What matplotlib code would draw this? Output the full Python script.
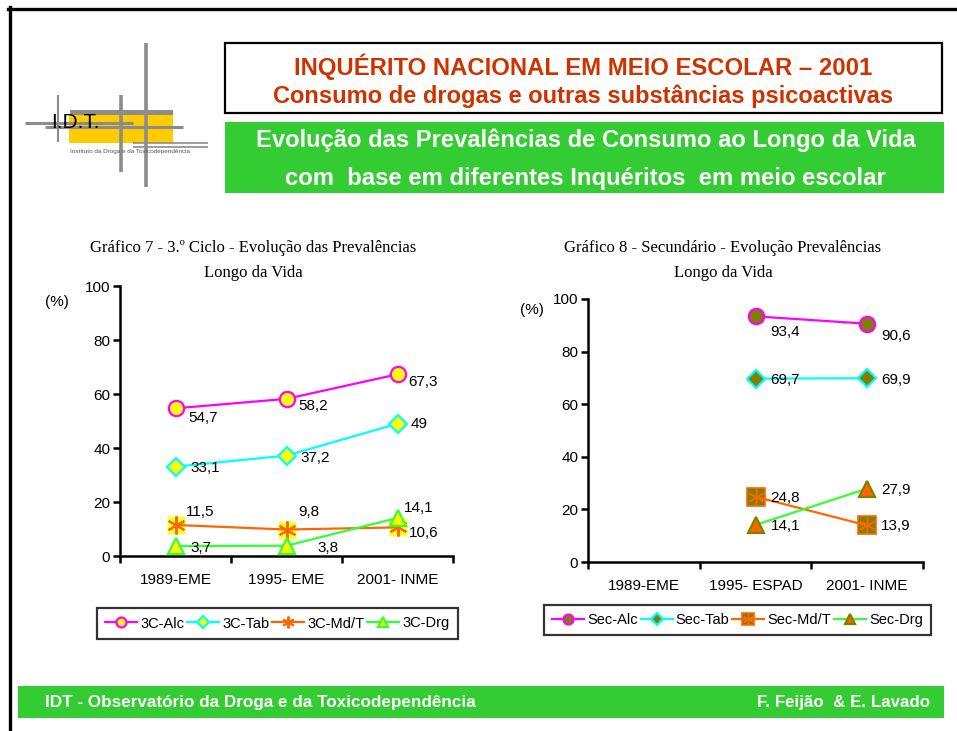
import numpy as np
import matplotlib
matplotlib.use("Agg")
import matplotlib.pyplot as plt
from matplotlib.patches import Rectangle
from matplotlib.lines import Line2D

# ---------------- data ----------------
cats1 = ["1989-EME", "1995- EME", "2001- INME"]
cats2 = ["1989-EME", "1995- ESPAD", "2001- INME"]

c3_alc = [54.7, 58.2, 67.3]
c3_tab = [33.1, 37.2, 49.0]
c3_mdt = [11.5, 9.8, 10.6]
c3_drg = [3.7, 3.8, 14.1]

sec_alc = [np.nan, 93.4, 90.6]
sec_tab = [np.nan, 69.7, 69.9]
sec_mdt = [np.nan, 24.8, 13.9]
sec_drg = [np.nan, 14.1, 27.9]

names1 = ["3C-Alc", "3C-Tab", "3C-Md/T", "3C-Drg"]
names2 = ["Sec-Alc", "Sec-Tab", "Sec-Md/T", "Sec-Drg"]

yticks = [0, 20, 40, 60, 80, 100]

# label offsets in pixels (dx, dy) for each series / point
off1 = [[(13, -10), (12, -7), (11, -8)],
        [(15, -1), (14, -2), (13, 0)],
        [(10, 13), (12, 18), (11, -6)],
        [(15, -2), (31, -2), (6, 10)]]
off2 = [[None, (15, -16), (14, -12)],
        [None, (15, -1), (14, -2)],
        [None, (15, -1), (14, -1)],
        [None, (15, -1), (14, -1)]]

W, H = 957, 731
fig = plt.figure(figsize=(W / 100, H / 100), dpi=100)
fig.patch.set_facecolor("white")

def fx(px):
    return px / W

def fy(py):
    return 1 - py / H

SANS = "Liberation Sans"
SERIF = "Liberation Serif"

MAG = "#FF00FF"
CYA = "#00FFFF"
ORA = "#FF6600"
GRN = "#33FF33"
YEL = "#FFFF00"
OLV = "#808000"
GREENBOX = "#33CC33"
RED = "#CC3300"

# ---------------- frame ----------------
fig.add_artist(Line2D([fx(8), fx(957)], [fy(8.5), fy(8.5)], color="black", lw=2.4,
                      transform=fig.transFigure))
fig.add_artist(Line2D([fx(9.5), fx(9.5)], [fy(7), fy(731)], color="black", lw=2.4,
                      transform=fig.transFigure))

# ---------------- header boxes ----------------
fig.add_artist(Rectangle((fx(225), fy(113)), fx(942) - fx(225), fy(43) - fy(113),
                         transform=fig.transFigure, facecolor="white",
                         edgecolor="black", lw=1.6))
fig.text(fx(583), fy(67), "INQUÉRITO NACIONAL EM MEIO ESCOLAR – 2001", family=SANS,
         weight="bold", color=RED, fontsize=17.2, ha="center", va="center")
fig.text(fx(583), fy(96), "Consumo de drogas e outras substâncias psicoactivas", family=SANS,
         weight="bold", color=RED, fontsize=17, ha="center", va="center")

fig.add_artist(Rectangle((fx(225), fy(193)), fx(944) - fx(225), fy(122) - fy(193),
                         transform=fig.transFigure, facecolor=GREENBOX,
                         edgecolor="none"))
fig.text(fx(586), fy(140), "Evolução das Prevalências de Consumo ao Longo da Vida", family=SANS,
         weight="bold", color="white", fontsize=17.1, ha="center", va="center")
fig.text(fx(585), fy(178), "com  base em diferentes Inquéritos  em meio escolar", family=SANS,
         weight="bold", color="white", fontsize=17.2, ha="center", va="center")

# ---------------- logo ----------------
GR = "#8C8C8C"
fig.add_artist(Rectangle((fx(69), fy(143)), fx(173) - fx(69), fy(115) - fy(143),
                         transform=fig.transFigure, facecolor="#FFCC00", edgecolor="none"))
fig.add_artist(Rectangle((fx(70), fy(115)), fx(173) - fx(70), fy(110) - fy(115),
                         transform=fig.transFigure, facecolor=GR, edgecolor="none"))
for (x0, y0, x1, y1, lw) in [(146, 43, 146, 187, 2.6), (121, 95, 121, 172, 2.6),
                             (58, 95, 58, 142, 1.5), (25, 123, 133, 123, 2.2),
                             (45, 127, 183, 127, 2.2), (133, 143, 208, 143, 1.2),
                             (133, 147, 208, 147, 1.2)]:
    fig.add_artist(Line2D([fx(x0), fx(x1)], [fy(y0), fy(y1)], color=GR, lw=lw,
                          transform=fig.transFigure, solid_capstyle="butt"))
fig.text(fx(51), fy(122), "I.D.T.", family=SANS, fontsize=15, color="black",
         ha="left", va="center", weight="light")
fig.text(fx(70), fy(151), "Instituto da Droga e da Toxicodependência", family=SANS,
         fontsize=4.6, color="#555555", ha="left", va="center")

# ---------------- footer ----------------
fig.add_artist(Rectangle((fx(18), fy(718)), fx(944) - fx(18), fy(686) - fy(718),
                         transform=fig.transFigure, facecolor=GREENBOX, edgecolor="none"))
fig.text(fx(45), fy(702), "IDT - Observatório da Droga e da Toxicodependência", family=SANS,
         weight="bold", color="white", fontsize=12.3, ha="left", va="center")
fig.text(fx(930), fy(702), "F. Feijão  & E. Lavado", family=SANS,
         weight="bold", color="white", fontsize=12.2, ha="right", va="center")


def fmt(v):
    return ("%g" % v).replace(".", ",")


def setup_axes(ax, cats):
    ax.set_xlim(-0.5, 2.5)
    ax.set_ylim(0, 100)
    for s in ["top", "right"]:
        ax.spines[s].set_visible(False)
    for s in ["left", "bottom"]:
        ax.spines[s].set_linewidth(1.8)
    ax.set_yticks(yticks)
    ax.set_yticklabels([str(t) for t in yticks], family=SANS, fontsize=11)
    ax.set_xticks([-0.5, 0.5, 1.5, 2.5])
    ax.set_xticklabels([])
    ax.set_xticks([0, 1, 2], minor=True)
    ax.set_xticklabels(cats, minor=True, family=SANS, fontsize=11)
    ax.tick_params(axis="x", which="minor", length=0, pad=12)
    ax.tick_params(axis="both", which="major", length=5, width=1.8, direction="out")
    ax.tick_params(axis="y", pad=2)
    ax.patch.set_alpha(0)


x = np.arange(3)
LEGKW = dict(loc="center", ncol=4, frameon=True, fancybox=False,
             prop={"family": SANS, "size": 10.5}, handlelength=2.2, handletextpad=0.2,
             columnspacing=0.2, borderpad=0.55, markerscale=0.65, borderaxespad=0)

# ---------------- chart 1 ----------------
ax1 = fig.add_axes([fx(120), fy(556), fx(453) - fx(120), fy(286) - fy(556)])
setup_axes(ax1, cats1)
h1 = []
h1.append(ax1.plot(x, c3_alc, color=MAG, lw=1.6, marker="o", ms=11, mfc=YEL, mec=MAG,
                   mew=1.6, label=names1[0])[0])
h1.append(ax1.plot(x, c3_tab, color=CYA, lw=1.6, marker="D", ms=9, mfc=YEL, mec=CYA,
                   mew=1.6, label=names1[1])[0])
ax1.plot(x, c3_mdt, ls="none", marker="s", ms=13, mfc="#FFFF33", mec="none", zorder=2)
h1.append(ax1.plot(x, c3_mdt, color=ORA, lw=1.6, marker=(6, 2, 0), ms=13, mec=ORA,
                   mew=1.4, label=names1[2], zorder=3)[0])
h1.append(ax1.plot(x, c3_drg, color=GRN, lw=1.6, marker="^", ms=12, mfc=YEL, mec=GRN,
                   mew=1.6, label=names1[3], zorder=4)[0])
for si, ser in enumerate([c3_alc, c3_tab, c3_mdt, c3_drg]):
    for i, v in enumerate(ser):
        dx, dy = off1[si][i]
        ax1.annotate(fmt(v), (i, v), xytext=(dx, dy), textcoords="offset pixels",
                     ha="left", va="center", family=SANS, fontsize=11, zorder=6)
fig.text(fx(57), fy(302), "(%)", family=SANS, fontsize=11, ha="center", va="center")
fig.text(fx(253), fy(248), "Gráfico 7 - 3.º Ciclo - Evolução das Prevalências", family=SERIF,
         fontsize=12, ha="center", va="center")
fig.text(fx(253), fy(273), "Longo da Vida", family=SERIF, fontsize=12,
         ha="center", va="center")
leg1 = fig.legend(handles=h1, bbox_to_anchor=(fx(277.5), fy(623.5)),
                  bbox_transform=fig.transFigure, **LEGKW)
leg1.get_frame().set_edgecolor("black")
leg1.get_frame().set_linewidth(1.6)

# ---------------- chart 2 ----------------
ax2 = fig.add_axes([fx(588), fy(562), fx(923) - fx(588), fy(299) - fy(562)])
setup_axes(ax2, cats2)
h2 = []
h2.append(ax2.plot(x, sec_alc, color=MAG, lw=1.6, marker="o", ms=11, mfc=OLV, mec=MAG,
                   mew=1.6, label=names2[0])[0])
h2.append(ax2.plot(x, sec_tab, color=CYA, lw=1.6, marker="D", ms=9, mfc=OLV, mec=CYA,
                   mew=1.6, label=names2[1])[0])
sq = ax2.plot(x, sec_mdt, ls="none", marker="s", ms=13, mfc=OLV, mec=ORA, mew=1.2, zorder=2)[0]
ast = ax2.plot(x, sec_mdt, color=ORA, lw=1.6, marker=(6, 2, 0), ms=12, mec=ORA,
               mew=1.0, zorder=3)[0]
h2.append((sq, ast))
h2.append(ax2.plot(x, sec_drg, color=GRN, lw=1.6, marker="^", ms=12, mfc=ORA, mec=OLV,
                   mew=1.6, label=names2[3], zorder=4)[0])
for si, ser in enumerate([sec_alc, sec_tab, sec_mdt, sec_drg]):
    for i, v in enumerate(ser):
        if np.isnan(v):
            continue
        dx, dy = off2[si][i]
        ax2.annotate(fmt(v), (i, v), xytext=(dx, dy), textcoords="offset pixels",
                     ha="left", va="center", family=SANS, fontsize=11, zorder=6)
fig.text(fx(532), fy(310), "(%)", family=SANS, fontsize=11, ha="center", va="center")
fig.text(fx(723), fy(248), "Gráfico 8 - Secundário - Evolução Prevalências", family=SERIF,
         fontsize=12, ha="center", va="center")
fig.text(fx(723), fy(273), "Longo da Vida", family=SERIF, fontsize=12,
         ha="center", va="center")
leg2 = fig.legend(handles=h2, labels=names2, bbox_to_anchor=(fx(737.5), fy(620)),
                  bbox_transform=fig.transFigure, **LEGKW)
leg2.get_frame().set_edgecolor("black")
leg2.get_frame().set_linewidth(1.6)

fig.savefig("out.png", dpi=100)
